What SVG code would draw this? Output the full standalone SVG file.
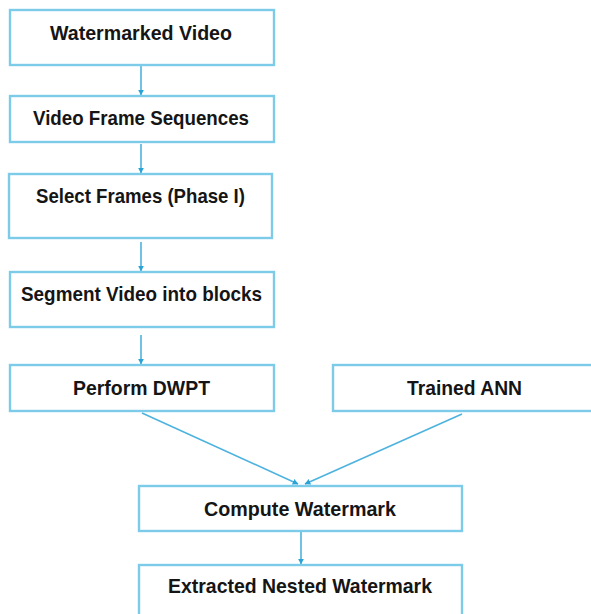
<svg xmlns="http://www.w3.org/2000/svg" width="591" height="614" viewBox="0 0 591 614">
<defs>
<style>
.box{fill:#ffffff;stroke:#7ccbe8;stroke-width:2.4}
.lbl{font-family:"Liberation Sans",Arial,sans-serif;font-weight:bold;font-size:20.5px;fill:#151515;text-anchor:middle}
.con{stroke:#4db3de;stroke-width:1.6;fill:none;marker-end:url(#ah)}
</style>
<marker id="ah" viewBox="0 0 10 10" refX="9" refY="5" markerWidth="6" markerHeight="6" orient="auto" markerUnits="userSpaceOnUse">
<path d="M0,0 L10,5 L0,10 z" fill="#2aa3d6"/>
</marker>
</defs>
<rect width="591" height="614" fill="#ffffff"/>
<g id="connectors">
<line class="con" x1="141" y1="66" x2="141" y2="95"/>
<line class="con" x1="141" y1="144" x2="141" y2="173"/>
<line class="con" x1="141" y1="242" x2="141" y2="271"/>
<line class="con" x1="141" y1="335" x2="141" y2="364"/>
<line class="con" x1="142" y1="413" x2="298" y2="484"/>
<line class="con" x1="462" y1="414" x2="305" y2="484"/>
<line class="con" x1="301" y1="532" x2="301" y2="564"/>
</g>
<g id="n1"><rect class="box" x="10" y="10" width="264" height="55"/><text class="lbl" x="141" y="40" textLength="182" lengthAdjust="spacingAndGlyphs">Watermarked Video</text></g>
<g id="n2"><rect class="box" x="10" y="96" width="264" height="46"/><text class="lbl" x="141" y="125" textLength="216" lengthAdjust="spacingAndGlyphs">Video Frame Sequences</text></g>
<g id="n3"><rect class="box" x="9" y="174" width="263" height="64"/><text class="lbl" x="140.5" y="203" textLength="209" lengthAdjust="spacingAndGlyphs">Select Frames (Phase I)</text></g>
<g id="n4"><rect class="box" x="10" y="272" width="264" height="55"/><text class="lbl" x="141.5" y="301" textLength="241" lengthAdjust="spacingAndGlyphs">Segment Video into blocks</text></g>
<g id="n5"><rect class="box" x="10" y="365" width="264" height="46"/><text class="lbl" x="141.5" y="395" textLength="137" lengthAdjust="spacingAndGlyphs">Perform DWPT</text></g>
<g id="n6"><rect class="box" x="333" y="365" width="264" height="46"/><text class="lbl" x="464.5" y="395" textLength="115" lengthAdjust="spacingAndGlyphs">Trained ANN</text></g>
<g id="n7"><rect class="box" x="139" y="486" width="323" height="45"/><text class="lbl" x="300" y="516" textLength="192" lengthAdjust="spacingAndGlyphs">Compute Watermark</text></g>
<g id="n8"><rect class="box" x="139" y="565" width="323" height="55"/><text class="lbl" x="300" y="593" textLength="264" lengthAdjust="spacingAndGlyphs">Extracted Nested Watermark</text></g>
</svg>
